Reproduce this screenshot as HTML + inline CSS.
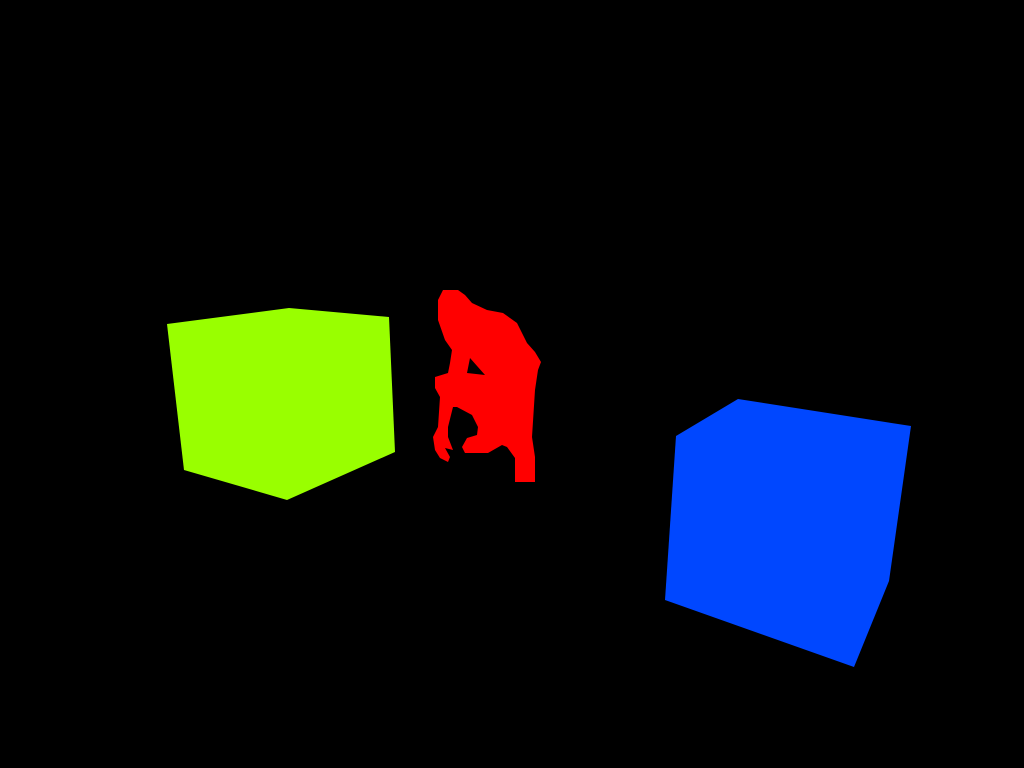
<!DOCTYPE html>
<html><head><meta charset="utf-8"><style>
html,body{margin:0;padding:0;background:#000;width:1024px;height:768px;overflow:hidden}
</style></head><body>
<svg width="1024" height="768" viewBox="0 0 1024 768">
<rect width="1024" height="768" fill="#000"/>
<polygon fill="#99ff00" points="167,324 289,308 389,317 395,452 287,500 184,470"/>
<polygon fill="#0047ff" points="676,436 738,399 911,426 889,581 854,667 665,600"/>
<path fill="#ff0000" fill-rule="evenodd" d="M443,290 L458,290 L465,295 L472,303 L487,310 L503,313 L510,318 L517,323 L527,343 L535,352 L541,362 L538,370 L535,390 L532,437 L535,457 L535,482 L515,482 L515,458 L507,447 L502,445 L488,453 L465,453 L462,447 L467,438 L477,435 L478,427 L472,415 L457,407 L453,407 L448,427 L448,437 L453,450 L445,448 L450,457 L448,462 L440,458 L435,450 L433,437 L438,427 L440,397 L435,388 L435,377 L448,373 L450,363 L452,350 L445,340 L438,320 L438,300 Z M470,358 L467,373 L485,375 Z"/>
</svg>
</body></html>
